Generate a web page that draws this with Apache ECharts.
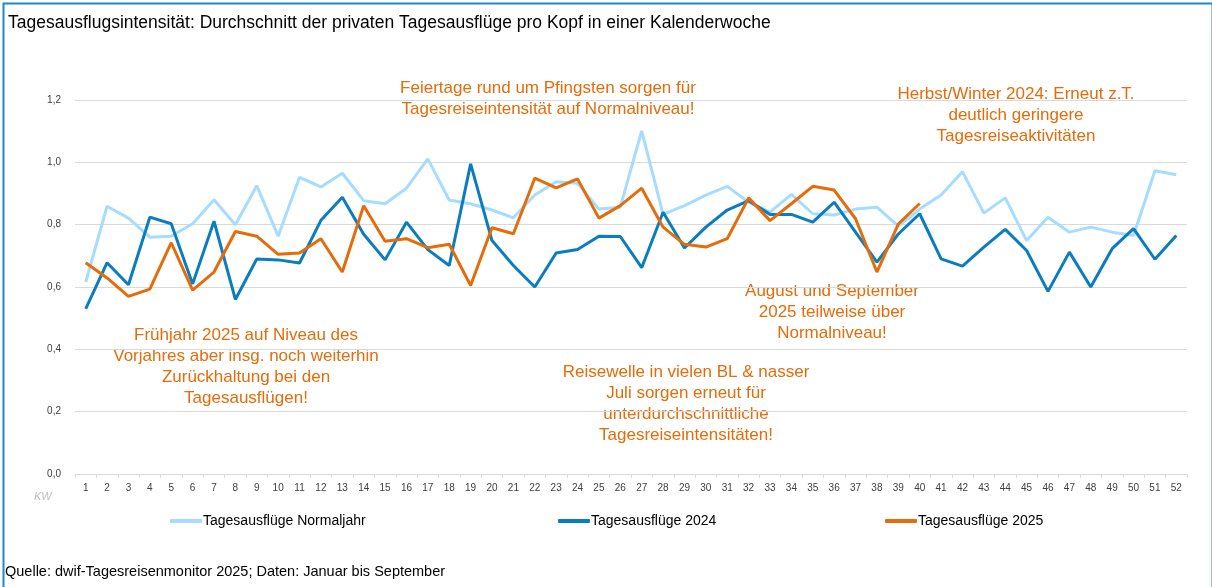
<!DOCTYPE html>
<html>
<head>
<meta charset="utf-8">
<script src="https://cdn.jsdelivr.net/npm/echarts@6/dist/echarts.min.js"></script>
<style>
  html, body { margin: 0; padding: 0; background: #fff; }
  #chart { width: 1212px; height: 587px; }
</style>
</head>
<body>
<div id="chart"></div>
<script>
// Kalenderwochen 1..52
let weeks = [];
for (let i = 1; i <= 52; i++) weeks.push(String(i));

let normaljahr = [0.616, 0.859, 0.821, 0.76, 0.763, 0.803, 0.88, 0.80, 0.925, 0.763,
  0.952, 0.921, 0.965, 0.877, 0.867, 0.917, 1.011, 0.879, 0.867, 0.847,
  0.822, 0.895, 0.938, 0.933, 0.85, 0.856, 1.101, 0.833, 0.861, 0.895,
  0.923, 0.872, 0.84, 0.897, 0.835, 0.831, 0.85, 0.856, 0.795, 0.85,
  0.895, 0.97, 0.837, 0.886, 0.749, 0.824, 0.776, 0.792, 0.776, 0.765,
  0.973, 0.96];

let jahr2024 = [0.53, 0.678, 0.607, 0.824, 0.803, 0.61, 0.811, 0.56, 0.69, 0.687,
  0.677, 0.814, 0.888, 0.769, 0.687, 0.808, 0.72, 0.669, 0.995, 0.749,
  0.669, 0.60, 0.709, 0.72, 0.763, 0.762, 0.662, 0.84, 0.725, 0.792,
  0.847, 0.877, 0.833, 0.833, 0.808, 0.872, 0.776, 0.68, 0.77, 0.835,
  0.69, 0.667, 0.728, 0.785, 0.717, 0.586, 0.712, 0.60, 0.723, 0.787,
  0.689, 0.765];

let jahr2025 = [0.678, 0.629, 0.57, 0.593, 0.742, 0.59, 0.648, 0.778, 0.763, 0.705,
  0.709, 0.755, 0.648, 0.861, 0.747, 0.755, 0.726, 0.737, 0.605, 0.79,
  0.771, 0.949, 0.918, 0.947, 0.821, 0.861, 0.917, 0.792, 0.737, 0.728,
  0.755, 0.886, 0.813, 0.867, 0.923, 0.911, 0.819, 0.648, 0.802, 0.868];

const orange = '#E46C0A';
const fontFam = '"Liberation Sans", Arial, sans-serif';
let chart = echarts.init(document.getElementById('chart'));

// Hinweistexte im Diagramm (x = Mitte)
function note(x, y, lines) {
  return {
    type: 'text',
    style: {
      x: x, y: y,
      text: lines.join('\n'), fill: orange, font: '17px ' + fontFam,
      textAlign: 'center', textVerticalAlign: 'top', lineHeight: 21
    }
  };
}

let option = {
  animation: false,
  textStyle: { fontFamily: fontFam },
  title: {
    text: 'Tagesausflugsintensität: Durchschnitt der privaten Tagesausflüge pro Kopf in einer Kalenderwoche',
    left: 3, top: 9,
    textStyle: { fontSize: 17.5, fontWeight: 'normal', color: '#000' }
  },
  legend: [
    { data: ['Tagesausflüge Normaljahr'], left: 165, top: 509 },
    { data: ['Tagesausflüge 2024'], left: 553, top: 509 },
    { data: ['Tagesausflüge 2025'], left: 880, top: 509 }
  ].map(l => Object.assign(l, {
    icon: 'roundRect', itemWidth: 32, itemHeight: 4, itemGap: 0,
    textStyle: { fontSize: 14, color: '#000', padding: [0, 0, 0, -4] }
  })),
  grid: { left: 75, right: 25, top: 100, bottom: 113 },
  xAxis: {
    type: 'category',
    data: weeks,
    boundaryGap: true,
    axisLine: { lineStyle: { color: '#d9d9d9' } },
    axisTick: { show: true, length: 4, lineStyle: { color: '#d9d9d9' } },
    axisLabel: { fontSize: 10, color: '#404040', interval: 0, margin: 9 }
  },
  yAxis: {
    type: 'value',
    min: 0, max: 1.2, interval: 0.2,
    axisLine: { show: false },
    axisTick: { show: false },
    splitLine: { lineStyle: { color: '#d9d9d9', width: 1 } },
    axisLabel: {
      fontSize: 10, color: '#404040', margin: 14,
      formatter: v => v.toFixed(1).replace('.', ',')
    }
  },
  series: [
    {
      name: 'Tagesausflüge Normaljahr', type: 'line', data: normaljahr,
      showSymbol: false, lineStyle: { width: 3, color: '#A6DCFF' }, itemStyle: { color: '#A6DCFF' }
    },
    {
      name: 'Tagesausflüge 2024', type: 'line', data: jahr2024,
      showSymbol: false, lineStyle: { width: 3, color: '#0A7DBE' }, itemStyle: { color: '#0A7DBE' }
    },
    {
      name: 'Tagesausflüge 2025', type: 'line', data: jahr2025,
      showSymbol: false, lineStyle: { width: 3, color: orange }, itemStyle: { color: orange }
    }
  ],
  graphic: [
    {
      type: 'rect', left: 1, top: 1,
      shape: { width: 1209, height: 590 },
      style: { fill: 'none', stroke: '#1B8CC8', lineWidth: 2 }
    },
    note(548, 78, ['Feiertage rund um Pfingsten sorgen für', 'Tagesreiseintensität auf Normalniveau!']),
    note(1016, 84, ['Herbst/Winter 2024: Erneut z.T.', 'deutlich geringere', 'Tagesreiseaktivitäten']),
    note(246, 325, ['Frühjahr 2025 auf Niveau des', 'Vorjahres aber insg. noch weiterhin', 'Zurückhaltung bei den', 'Tagesausflügen!']),
    note(686, 362, ['Reisewelle in vielen BL & nasser', 'Juli sorgen erneut für', 'unterdurchschnittliche', 'Tagesreiseintensitäten!']),
    note(832, 281, ['August und September', '2025 teilweise über', 'Normalniveau!']),
    {
      type: 'text',
      style: { x: 34, y: 491, text: 'KW', fill: '#bfbfbf', font: 'italic 11px ' + fontFam }
    },
    {
      type: 'text',
      style: { x: 5, y: 564, text: 'Quelle: dwif-Tagesreisenmonitor 2025; Daten: Januar bis September', fill: '#000', font: '14.5px ' + fontFam }
    }
  ]
};

chart.setOption(option);
</script>
</body>
</html>
